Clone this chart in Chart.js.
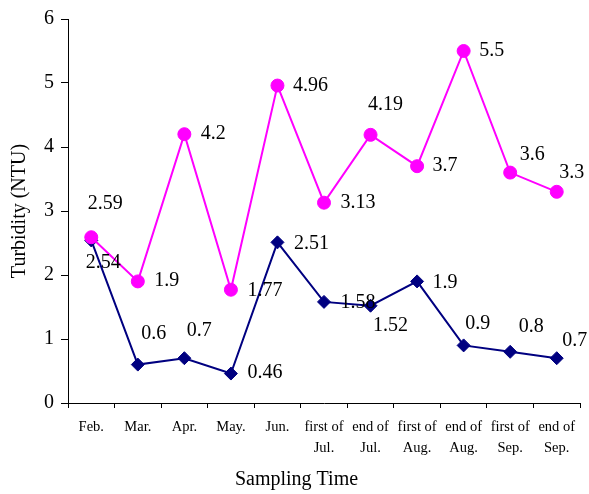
<!DOCTYPE html>
<html>
<head>
<meta charset="utf-8">
<script src="https://cdn.jsdelivr.net/npm/chart.js@4"></script>
<style>
  html, body { margin: 0; padding: 0; background: #fff; }
  #wrap { width: 589px; height: 494px; }
</style>
</head>
<body>
<div id="wrap"><canvas id="c" width="589" height="494"></canvas></div>
<script>
// ---- data ----
const categories = [
  'Feb.', 'Mar.', 'Apr.', 'May.', 'Jun.',
  ['first of', 'Jul.'], ['end of', 'Jul.'],
  ['first of', 'Aug.'], ['end of', 'Aug.'],
  ['first of', 'Sep.'], ['end of', 'Sep.']
];
const seriesMagenta = [2.59, 1.9, 4.2, 1.77, 4.96, 3.13, 4.19, 3.7, 5.5, 3.6, 3.3];
const seriesNavy = [2.54, 0.6, 0.7, 0.46, 2.51, 1.58, 1.52, 1.9, 0.9, 0.8, 0.7];
const yTicks = [0, 1, 2, 3, 4, 5, 6];
const xTitle = 'Sampling Time';
const yTitle = 'Turbidity (NTU)';

// ---- label placement (pixel offsets from each point, styling only) ----
const labelOffsets = [
  [[14, -33], [29, -1], [29, 0], [34, 1], [33, 0], [34, 0], [15, -30], [28, 0], [28, 0], [22, -18], [15, -19]],
  [[12, 22], [16, -31], [15, -27], [34, -1], [34, 1], [34, 1], [20, 20], [28, 1], [14, -22], [21, -25], [18, -17]]
];

const SERIF = "'Liberation Serif', 'Times New Roman', serif";

const valueLabels = {
  id: 'valueLabels',
  afterDatasetsDraw(chart) {
    const ctx = chart.ctx;
    ctx.save();
    ctx.font = '20px ' + SERIF;
    ctx.fillStyle = '#000';
    ctx.textAlign = 'center';
    ctx.textBaseline = 'middle';
    chart.data.datasets.forEach((ds, di) => {
      const meta = chart.getDatasetMeta(di);
      meta.data.forEach((pt, i) => {
        const off = labelOffsets[di][i];
        ctx.fillText(String(ds.data[i]), pt.x + off[0], pt.y + off[1]);
      });
    });
    ctx.restore();
  }
};

new Chart(document.getElementById('c'), {
  type: 'line',
  data: {
    labels: categories,
    datasets: [
      {
        data: seriesMagenta,
        borderColor: '#FF00FF',
        backgroundColor: '#FF00FF',
        borderWidth: 2,
        pointStyle: 'circle',
        pointRadius: 6.5,
        pointBorderWidth: 1,
        pointBackgroundColor: '#FF00FF',
        pointBorderColor: '#FF00FF',
        tension: 0
      },
      {
        data: seriesNavy,
        borderColor: '#000080',
        backgroundColor: '#000080',
        borderWidth: 2,
        pointStyle: 'rectRot',
        pointRadius: 6.5,
        pointBorderWidth: 1,
        pointBackgroundColor: '#000080',
        pointBorderColor: '#000080',
        tension: 0
      }
    ]
  },
  options: {
    responsive: false,
    animation: false,
    devicePixelRatio: 1,
    layout: { padding: { left: 13, right: 9, top: 16, bottom: 0 } },
    plugins: {
      legend: { display: false },
      tooltip: { enabled: false },
      title: {
        display: true,
        position: 'bottom',
        text: xTitle,
        color: '#000',
        font: { family: SERIF, size: 20, weight: 'normal', lineHeight: 1.2 },
        padding: { top: 0, bottom: 2 }
      }
    },
    scales: {
      x: {
        type: 'category',
        offset: true,
        grid: {
          display: true,
          offset: true,
          drawOnChartArea: false,
          drawTicks: true,
          tickLength: 5,
          color: '#000',
          lineWidth: 1
        },
        border: { display: true, color: '#000', width: 1 },
        ticks: {
          color: '#000',
          font: { family: SERIF, size: 14.5, lineHeight: 1.45 },
          padding: 9,
          maxRotation: 0,
          minRotation: 0,
          autoSkip: false
        },
        afterFit(scale) { scale.height = 65; }
      },
      y: {
        min: 0,
        max: 6,
        grid: {
          display: true,
          drawOnChartArea: false,
          drawTicks: true,
          tickLength: 7,
          color: '#000',
          lineWidth: 1
        },
        border: { display: true, color: '#000', width: 1 },
        ticks: {
          color: '#000',
          font: { family: SERIF, size: 20 },
          padding: 7,
          stepSize: 1,
          callback: (v) => (yTicks.includes(v) ? String(v) : '')
        },
        title: {
          display: true,
          text: yTitle,
          color: '#000',
          font: { family: SERIF, size: 20, lineHeight: 1.2 },
          padding: { top: -5, bottom: 0 }
        },
        afterFit(scale) { scale.width = 55; }
      }
    }
  },
  plugins: [valueLabels]
});
</script>
</body>
</html>
